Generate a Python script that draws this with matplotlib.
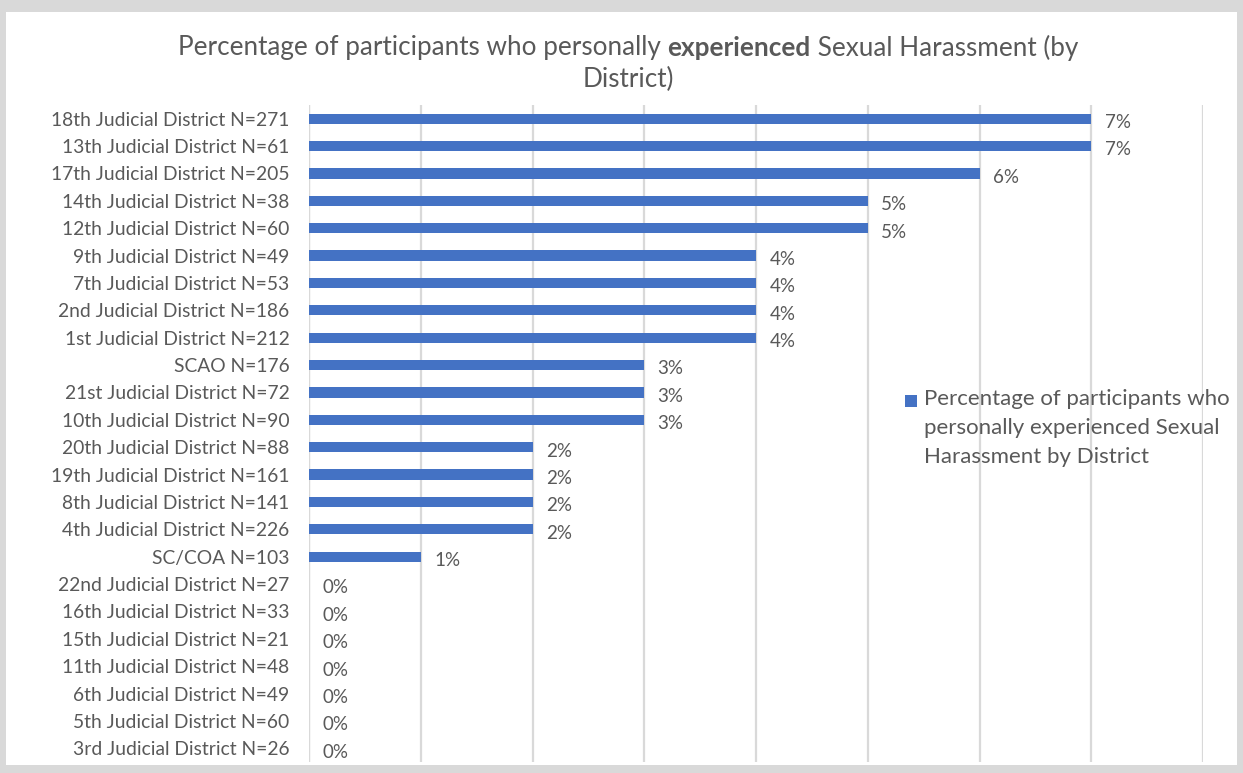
import numpy as np
import matplotlib.pyplot as plt
from matplotlib.patches import Rectangle

plt.rcParams['font.family'] = ['Lato', 'DejaVu Sans']

districts = ['18th Judicial District N=271', '13th Judicial District N=61',
             '17th Judicial District N=205', '14th Judicial District N=38',
             '12th Judicial District N=60', '9th Judicial District N=49',
             '7th Judicial District N=53', '2nd Judicial District N=186',
             '1st Judicial District N=212', 'SCAO N=176',
             '21st Judicial District N=72', '10th Judicial District N=90',
             '20th Judicial District N=88', '19th Judicial District N=161',
             '8th Judicial District N=141', '4th Judicial District N=226',
             'SC/COA N=103', '22nd Judicial District N=27',
             '16th Judicial District N=33', '15th Judicial District N=21',
             '11th Judicial District N=48', '6th Judicial District N=49',
             '5th Judicial District N=60', '3rd Judicial District N=26']
pct = [7, 7, 6, 5, 5, 4, 4, 4, 4, 3, 3, 3, 2, 2, 2, 2, 1, 0, 0, 0, 0, 0, 0, 0]
series_name = 'Percentage of participants who\npersonally experienced Sexual\nHarassment by District'
title_parts = [('Percentage of participants who personally ', 'normal'),
               ('experienced', 'bold'),
               (' Sexual Harassment (by', 'normal')]

bar_color = '#4472c4'
text_color = '#595959'
grid_color = '#d9d9d9'
W, H = 1243, 773

fig = plt.figure(figsize=(W / 100, H / 100), dpi=100)
fig.patch.set_facecolor('#d9d9d9')
# white chart area inside the grey frame
fig.patches.append(Rectangle((6 / W, 8 / H), 1231 / W, 753 / H,
                             transform=fig.transFigure, facecolor='white',
                             edgecolor='none', zorder=-10))

ax = fig.add_axes([309 / W, 1 - 762 / H, (1203 - 309) / W, (762 - 105) / H])
ax.set_facecolor('none')
y = np.arange(len(districts))
ax.barh(y, pct, height=0.37, color=bar_color, zorder=3)
ax.set_ylim(len(districts) - 0.5, -0.5)
ax.set_xlim(0, 8)
ax.set_xticks(np.arange(0, 9, 1))
ax.set_xticklabels([])
ax.tick_params(axis='x', length=0)
ax.tick_params(axis='y', length=0, pad=14, labelsize=13.9, labelcolor=text_color)
ax.set_yticks(y)
ax.set_yticklabels(districts)
ax.grid(axis='x', color=grid_color, linewidth=1.6, zorder=0)
for s in ax.spines.values():
    s.set_visible(False)
ax.axvline(0, color=grid_color, linewidth=1.6, zorder=1)

for yi, v in zip(y, pct):
    ax.text(v + 0.12, yi + 0.14, f'{v}%', va='center', ha='left',
            fontsize=13.5, color=text_color)

# title: first line has a bold word, so lay it out piece by piece
fig.canvas.draw()
renderer = fig.canvas.get_renderer()
pieces = []
total = 0
for txt, wt in title_parts:
    t = fig.text(0, 1 - 48 / H, txt, ha='left', va='center', fontsize=18.8,
                 fontweight=wt, color=text_color)
    w = t.get_window_extent(renderer).width
    pieces.append((t, w))
    total += w
x0 = 628 - total / 2
for t, w in pieces:
    t.set_x(x0 / W)
    x0 += w
fig.text(628 / W, 1 - 79 / H, 'District)', ha='center', va='center',
         fontsize=18.8, color=text_color)

# legend entry
fig.patches.append(Rectangle((905 / W, 1 - 407 / H), 12 / W, 12 / H,
                             transform=fig.transFigure, facecolor=bar_color,
                             edgecolor='none', zorder=5))
fig.text(924 / W, 1 - 389 / H, series_name, ha='left', va='top',
         fontsize=16, color=text_color, linespacing=1.55)

fig.savefig('out.png', dpi=100)
